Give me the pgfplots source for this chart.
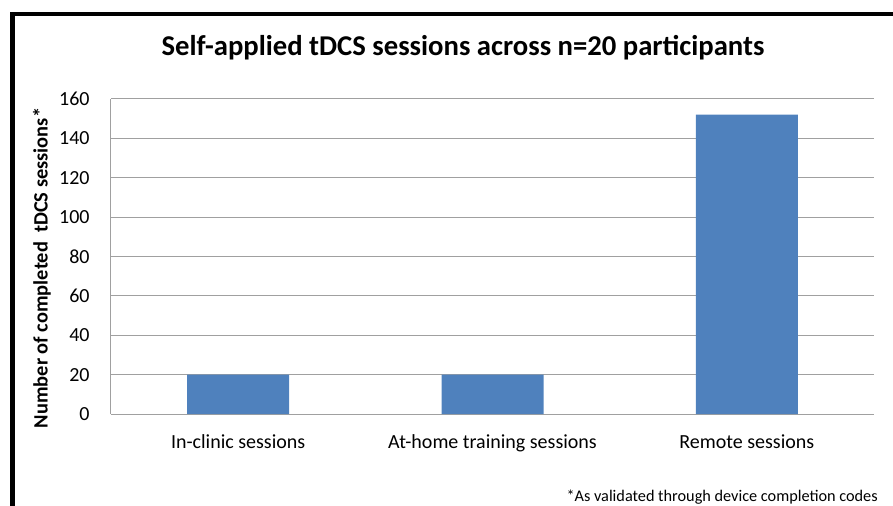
\documentclass[border=0pt]{standalone}
\usepackage{fontspec}
\setmainfont{Carlito}
\usepackage{pgfplots}
\pgfplotsset{compat=1.18}
\definecolor{barblue}{HTML}{4F81BD}
\definecolor{gridgray}{HTML}{A0A0A0}
\begin{document}
\begin{tikzpicture}
\useasboundingbox (0,0) rectangle (669.75pt,-379.5pt);
\begin{scope}
\clip (0,0) rectangle (669.75pt,-379.5pt);
\draw[line width=3.5pt] (9.4pt,-400pt) -- (9.4pt,-10.5pt) -- (700pt,-10.5pt);
\end{scope}
\begin{axis}[
  at={(83.25pt,-310.5pt)}, anchor=south west,
  scale only axis, width=572.25pt, height=236.25pt,
  xmin=-0.5, xmax=2.5, ymin=0, ymax=160,
  ytick={0,20,...,160},
  xtick={0,1,2},
  xticklabels={In-clinic sessions, At-home training sessions, Remote sessions},
  ymajorgrids, grid style={gridgray, line width=0.75pt},
  axis x line*=bottom, axis y line*=left,
  axis line style={gridgray, line width=0.75pt},
  major tick length=0pt,
  ticklabel style={font=\fontsize{15}{18}\selectfont},
  /pgf/number format/assume math mode=true,
  yticklabel style={xshift=-12.5pt},
  xticklabel style={yshift=-12pt},
  ybar, bar width=76.5pt,
]
\addplot[fill=barblue, draw=none] coordinates {(0,20) (1,20) (2,152)};
\end{axis}
\node[font=\bfseries\fontsize{21.5}{26}\selectfont] at (347.25pt,-35.5pt) {Self-applied tDCS sessions across n=20 participants};
\node[font=\bfseries\fontsize{15.3}{18}\selectfont, rotate=90] at (31.5pt,-201pt) {Number of completed\ \ tDCS sessions*};
\node[font=\fontsize{12.2}{15}\selectfont, anchor=east, inner sep=0pt] at (658.5pt,-372.75pt) {*As validated through device completion codes};
\end{tikzpicture}
\end{document}
